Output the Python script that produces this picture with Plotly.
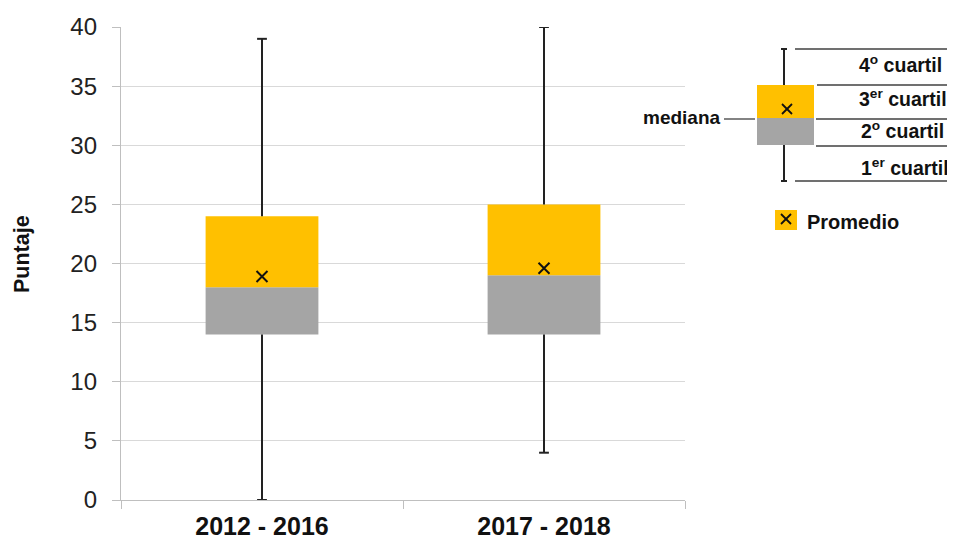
import plotly.graph_objects as go

categories = ["2012 - 2016", "2017 - 2018"]
minimum = [0, 4]
q1 = [14, 14]
median = [18, 19]
q3 = [24, 25]
maximum = [39, 40]
mean = [18.9, 19.6]
y_ticks = [0, 5, 10, 15, 20, 25, 30, 35, 40]

ORANGE = "#FFC000"
GRAY = "#A5A5A5"
FONT = "Liberation Sans, Arial, sans-serif"

OFF = 8  # page body margin
W, H = 955 - OFF, 543 - OFF
L, T = 121 - OFF, 27 - OFF
R = W - (685 - OFF)
B = H - (500 - OFF)
PW = W - L - R
PH = H - T - B


def px(X):
    return (X - OFF - L) / PW


def py(Y):
    return (H - B - (Y - OFF)) / PH


fig = go.Figure()

fig.add_trace(go.Bar(
    x=categories, y=[m - a for m, a in zip(median, q1)], base=q1,
    marker=dict(color=GRAY, line=dict(width=0)), width=0.4, showlegend=False,
    hoverinfo="skip"))
fig.add_trace(go.Bar(
    x=categories, y=[c - m for c, m in zip(q3, median)], base=median,
    marker=dict(color=ORANGE, line=dict(width=0)), width=0.4, showlegend=False,
    hoverinfo="skip"))

wx, wy = [], []
for i, c in enumerate(categories):
    wx += [c, c, None, c, c, None]
    wy += [q3[i], maximum[i], None, minimum[i], q1[i], None]
fig.add_trace(go.Scatter(x=wx, y=wy, mode="lines",
                         line=dict(color="#222222", width=2), showlegend=False))
capx, capy = [], []
for i, c in enumerate(categories):
    capx += [c, c]
    capy += [maximum[i], minimum[i]]
fig.add_trace(go.Scatter(x=capx, y=capy, mode="markers",
                         marker=dict(symbol="line-ew-open", size=7, color="#222222",
                                     line=dict(color="#222222", width=2)),
                         showlegend=False))
fig.add_trace(go.Scatter(x=categories, y=mean, mode="markers",
                         marker=dict(symbol="x-thin-open", size=11, color="#111111",
                                     line=dict(color="#111111", width=2)),
                         showlegend=False))

shapes = []
LC = "#404040"


def line(x0, y0, x1, y1, color=LC, width=1.3):
    shapes.append(dict(type="line", xref="paper", yref="paper",
                       x0=px(x0), y0=py(y0), x1=px(x1), y1=py(y1),
                       line=dict(color=color, width=width)))


def rect(x0, y0, x1, y1, color):
    shapes.append(dict(type="rect", xref="paper", yref="paper",
                       x0=px(x0), y0=py(y0), x1=px(x1), y1=py(y1),
                       fillcolor=color, line=dict(width=0)))


# schematic legend
rect(757, 85, 814, 118, ORANGE)
rect(757, 118, 814, 145, GRAY)
line(784, 49, 784, 85, "#222222", 2)
line(784, 145, 784, 181, "#222222", 2)
line(781, 49, 787, 49, "#222222", 2)
line(781, 181, 787, 181, "#222222", 2)
line(782, 104, 792, 114, "#111111", 1.8)
line(782, 114, 792, 104, "#111111", 1.8)
line(795, 49, 955, 49)
line(817, 85, 955, 85)
line(816, 119, 955, 119)
line(816, 146, 955, 146)
line(795, 181, 955, 181)
line(724, 119, 755, 119)
rect(775, 210, 797, 230, ORANGE)
line(781, 214, 791, 224, "#111111", 1.8)
line(781, 224, 791, 214, "#111111", 1.8)

annotations = []


def text(s, X, Y, size=18, anchor="left", angle=0):
    annotations.append(dict(text=s, xref="paper", yref="paper", x=px(X), y=py(Y),
                            xanchor=anchor, yanchor="middle", showarrow=False,
                            textangle=angle,
                            font=dict(family=FONT, size=size, color="#111111")))


text("<b>4<sup>o</sup> cuartil</b>", 857, 64, 19.5)
text("<b>3<sup>er</sup> cuartil</b>", 857, 98, 19.5)
text("<b>2<sup>o</sup> cuartil</b>", 859, 130, 19.5)
text("<b>1<sup>er</sup> cuartil</b>", 859, 167, 19.5)
text("<b>mediana</b>", 723, 117, 19, "right")
text("<b>Promedio</b>", 805, 222, 20)
text("<b>Puntaje</b>", 22, 254, 21.5, "center", -90)

fig.update_layout(
    width=W, height=H,
    margin=dict(l=L, r=R, t=T, b=B, pad=0, autoexpand=False),
    paper_bgcolor="white", plot_bgcolor="white",
    barmode="overlay", showlegend=False,
    font=dict(family=FONT, color="#111111"),
    shapes=shapes, annotations=annotations,
    xaxis=dict(type="category", range=[-0.5, 1.5], tickson="boundaries",
               automargin=False,
               showgrid=False, showline=True, linecolor="#BFBFBF", linewidth=1.3,
               ticks="outside", ticklen=8, tickcolor="#BFBFBF", tickwidth=1.3,
               tickfont=dict(size=25, family=FONT, color="#111111"),
               tickprefix="<b>", ticksuffix="</b>", ticklabelstandoff=4),
    yaxis=dict(range=[0, 40], tickvals=y_ticks, showgrid=True, gridcolor="#D9D9D9",
               automargin=False,
               gridwidth=1.3, zeroline=False, showline=True, linecolor="#BFBFBF",
               linewidth=1.3, ticks="outside", ticklen=8, tickcolor="#BFBFBF",
               tickwidth=1.3, tickfont=dict(size=24, family=FONT, color="#222222"),
               ticklabelstandoff=10),
)

fig.write_html("out.html")
